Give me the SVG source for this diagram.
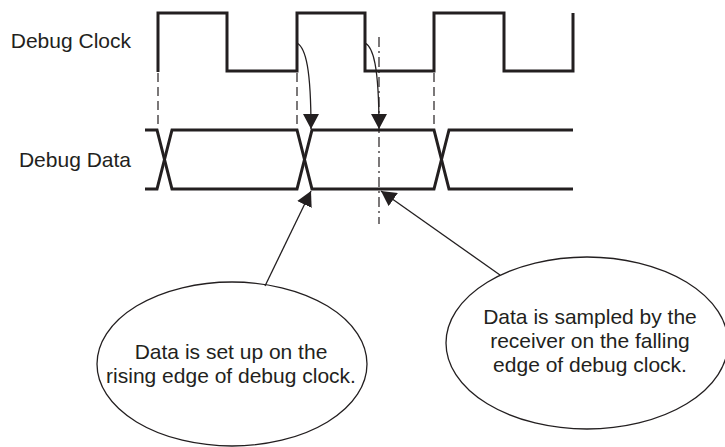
<svg xmlns="http://www.w3.org/2000/svg" width="725" height="447" viewBox="0 0 725 447">
<style>
.sig{fill:none;stroke:#231f20;stroke-width:3;stroke-linejoin:miter}
.dash{fill:none;stroke:#231f20;stroke-width:1.2;stroke-dasharray:9 5}
.dashdot{fill:none;stroke:#231f20;stroke-width:1.2;stroke-dasharray:10 4 2 4}
.conn{fill:none;stroke:#231f20;stroke-width:1.3}
.bubble{fill:#fff;stroke:#231f20;stroke-width:1.3}
text{font-family:"Liberation Sans",Arial,sans-serif;font-size:21px;fill:#231f20}
</style>
<defs>
<marker id="ah" markerUnits="userSpaceOnUse" markerWidth="16" markerHeight="16" viewBox="0 0 16 16" refX="15" refY="8" orient="auto">
<path d="M0,0 L15,8 L0,16 Z" fill="#231f20"/>
</marker>
</defs>
<g id="labels">
<text x="131" y="48" text-anchor="end">Debug Clock</text>
<text x="131" y="167" text-anchor="end">Debug Data</text>
</g>
<g id="debug-clock">
<path class="sig" d="M158,72 V13 H227 V71 H297 V13 H365 V71 H434 V13 H504 V71 H573 V13"/>
</g>
<g id="debug-data">
<path class="sig" d="M145,130 H157 L172,189 H297 L312,130 H434 L449,189 H573"/>
<path class="sig" d="M145,189 H157 L172,130 H297 L312,189 H434 L449,130 H573"/>
</g>
<g id="guides">
<path class="dash" d="M158,73 V126 M297,73 V126 M434,73 V126"/>
<path class="dashdot" d="M379,37 V224"/>
</g>
<g id="bubble-setup">
<ellipse class="bubble" cx="232" cy="364" rx="135" ry="82"/>
<text x="231" y="359" text-anchor="middle">Data is set up on the</text>
<text x="231" y="383" text-anchor="middle">rising edge of debug clock.</text>
</g>
<g id="bubble-sample">
<ellipse class="bubble" cx="587" cy="343" rx="141" ry="86"/>
<text x="590" y="324" text-anchor="middle">Data is sampled by the</text>
<text x="590" y="348" text-anchor="middle">receiver on the falling</text>
<text x="590" y="372" text-anchor="middle">edge of debug clock.</text>
</g>
<g id="connectors">
<path class="conn" d="M297,43 C306,48 311,70 311,129" marker-end="url(#ah)"/>
<path class="conn" d="M365,43 C373,47 379,65 379,129" marker-end="url(#ah)"/>
<path class="conn" d="M265,286 L311,191" marker-end="url(#ah)"/>
<path class="conn" d="M500,275 L381,191" marker-end="url(#ah)"/>
</g>
</svg>
